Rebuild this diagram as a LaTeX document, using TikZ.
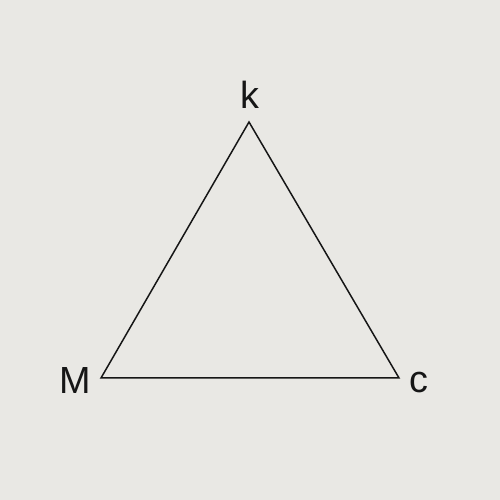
\documentclass[tikz,border=0pt]{standalone}
\usepackage{fontspec}
\setmainfont{Liberation Sans}
\usetikzlibrary{positioning}
\definecolor{paper}{HTML}{E9E8E4}
\definecolor{ink}{HTML}{161616}
\tikzset{
	vlabel/.style={text=ink, font=\fontsize{21.5}{24}\selectfont, inner sep=0pt},
	side/.style={draw=ink, line width=0.85pt, line join=miter}
}
\begin{document}
\begin{tikzpicture}
	\fill[paper] (0,0) rectangle (10,10);
	\useasboundingbox (0,0) rectangle (10,10);

	\coordinate (K) at (4.98,7.56);
	\coordinate (M) at (2.02,2.44);
	\coordinate (C) at (7.98,2.44);

	\node[vlabel, anchor=base] (lk) at (5.00,7.82) {k};
	\node[vlabel, anchor=base] (lm) at (1.50,2.12) {M};
	\node[vlabel, anchor=base] (lc) at (8.38,2.14) {c};

	\draw[side] (K) -- (M) -- (C) -- cycle;
\end{tikzpicture}
\end{document}
